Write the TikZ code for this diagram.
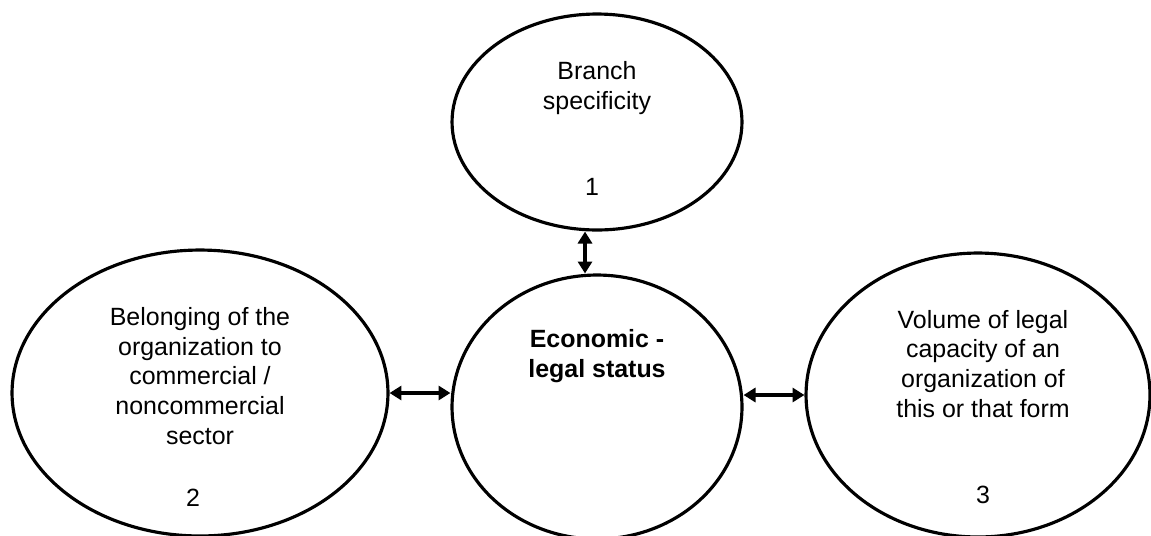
\documentclass[tikz,border=0pt]{standalone}
\usepackage{fontspec}
\setmainfont{Liberation Sans}
\usetikzlibrary{shapes.geometric, arrows.meta}

\begin{document}
\begin{tikzpicture}[x=0.02cm, y=-0.02cm,
    oval/.style={draw, ellipse, line width=1.8pt, inner sep=0pt},
    txt/.style={align=center, font=\fontsize{14.2}{17}\selectfont},
    link/.style={line width=1.8pt, {Triangle[length=6.8pt,width=8pt]}-{Triangle[length=6.8pt,width=8pt]}}]
    % Picture frame (the ovals run past the lower edge)
    \useasboundingbox (0,0) rectangle (1151,535);
    \clip (0,0) rectangle (1151,535);

    % Four ovals
    \node[oval, minimum width=5.8cm, minimum height=4.32cm] (branch) at (597,122) {};
    \node[oval, minimum width=5.8cm, minimum height=5.28cm] (status) at (597,407) {};
    \node[oval, minimum width=7.52cm, minimum height=5.72cm] (sector) at (200,393) {};
    \node[oval, minimum width=6.88cm, minimum height=5.68cm] (volume) at (978,395) {};

    % Texts inside the ovals
    \node[txt] (branchtxt) at (597,88) {Branch\\specificity};
    \node[txt] (branchnum) at (592,187) {1};
    \node[txt] (statustxt) at (597,356) {\bfseries Economic -\\\bfseries legal status};
    \node[txt] (sectortxt) at (200,376) {Belonging of the\\organization to\\commercial /\\noncommercial\\sector};
    \node[txt] (sectornum) at (193,498) {2};
    \node[txt] (volumetxt) at (983,364) {Volume of legal\\capacity of an\\organization of\\this or that form};
    \node[txt] (volumenum) at (983,495) {3};

    % Two-way arrows
    \draw[link] (branch.south -| 585,0) -- (status.north -| 585,0);
    \draw[link] (sector.east) -- (sector.east -| status.west);
    \draw[link] (status.east |- volume.west) -- (volume.west);
\end{tikzpicture}
\end{document}
